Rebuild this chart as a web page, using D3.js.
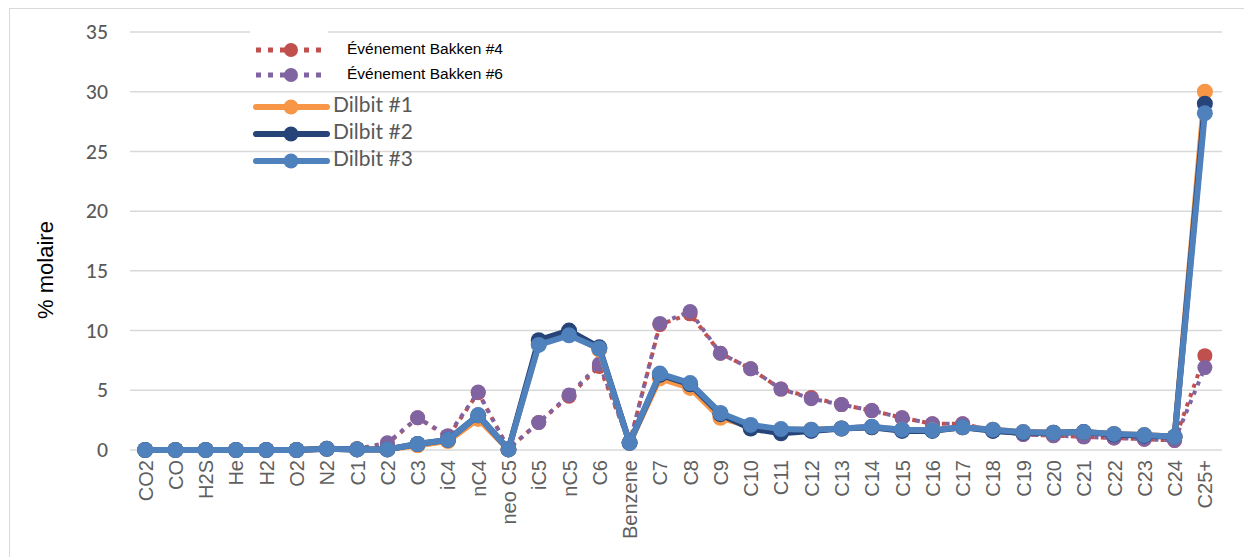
<!DOCTYPE html>
<html>
<head>
<meta charset="utf-8">
<script src="https://cdn.jsdelivr.net/npm/d3@7"></script>
<style>
  html, body { margin: 0; padding: 0; background: #fff; }
  svg { display: block; }
</style>
</head>
<body>
<svg id="chart" width="1244" height="557"></svg>
<script>
// Components along the x axis
const categories = ["CO2","CO","H2S","He","H2","O2","N2","C1","C2","C3","iC4","nC4","neo C5",
  "iC5","nC5","C6","Benzene","C7","C8","C9","C10","C11","C12","C13","C14","C15","C16","C17",
  "C18","C19","C20","C21","C22","C23","C24","C25+"];

// Mole percent per component
const bakken4 = [0,0,0,0,0,0,0.1,0.1,0.5,2.7,1.1,4.8,0.1,2.3,4.5,7.0,0.6,10.5,11.4,8.1,6.8,5.1,4.4,3.8,3.3,2.7,2.2,2.2,1.6,1.3,1.2,1.1,1.0,0.9,0.8,7.9];
const bakken6 = [0,0,0,0,0,0,0.1,0.1,0.6,2.7,1.2,4.85,0.1,2.3,4.6,7.2,0.6,10.6,11.6,8.1,6.8,5.1,4.3,3.8,3.3,2.7,2.2,2.2,1.6,1.3,1.2,1.1,1.0,0.9,0.8,6.9];
const dilbit1 = [0,0,0,0,0,0,0.1,0.05,0.05,0.4,0.75,2.6,0.05,8.9,9.8,8.4,0.6,6.0,5.2,2.7,2.0,1.7,1.7,1.8,1.9,1.7,1.65,1.9,1.7,1.5,1.45,1.5,1.35,1.25,1.1,30.0];
const dilbit2 = [0,0,0,0,0,0,0.1,0.05,0.05,0.5,0.85,2.9,0.05,9.2,10.0,8.6,0.6,6.3,5.5,3.0,1.8,1.4,1.6,1.8,1.9,1.6,1.6,1.9,1.6,1.45,1.45,1.5,1.3,1.2,1.1,29.0];
const dilbit3 = [0,0,0,0,0,0,0.1,0.05,0.05,0.5,0.85,2.9,0.05,8.8,9.6,8.5,0.6,6.4,5.6,3.1,2.1,1.75,1.7,1.8,1.95,1.7,1.65,1.9,1.7,1.5,1.45,1.5,1.35,1.25,1.1,28.2];

const yTicks = [0,5,10,15,20,25,30,35];

const series = [
  { name: "Événement Bakken #4", values: bakken4, color: "#C0504D", dotted: true },
  { name: "Événement Bakken #6", values: bakken6, color: "#8064A2", dotted: true },
  { name: "Dilbit #1", values: dilbit1, color: "#F79646", dotted: false },
  { name: "Dilbit #2", values: dilbit2, color: "#264478", dotted: false },
  { name: "Dilbit #3", values: dilbit3, color: "#4F81BD", dotted: false }
];

const svg = d3.select("#chart");

// Outer chart frame
svg.append("rect")
  .attr("x", 9.5).attr("y", 8.5)
  .attr("width", 1250).attr("height", 570)
  .attr("fill", "none").attr("stroke", "#D9D9D9").attr("stroke-width", 1);

const x = d3.scalePoint().domain(categories).range([130, 1220]).padding(0.5);
const y = d3.scaleLinear().domain([0, 35]).range([450, 32]);

// Horizontal gridlines
svg.append("g").selectAll("line").data(yTicks).join("line")
  .attr("x1", 130).attr("x2", 1222)
  .attr("y1", d => y(d)).attr("y2", d => y(d))
  .attr("stroke", "#D9D9D9").attr("stroke-width", 1.5);

// Y axis tick labels
const yAxis = d3.axisLeft(y).tickValues(yTicks).tickSize(0).tickPadding(0);
const yg = svg.append("g").attr("transform", "translate(108,0)").call(yAxis);
yg.select(".domain").remove();
yg.selectAll("text")
  .attr("font-family", "Lato, 'Open Sans', sans-serif")
  .attr("font-size", 19)
  .attr("font-weight", 500)
  .attr("fill", "#595959")
  .attr("dy", "0.35em");

// X axis tick labels, rotated
const xAxis = d3.axisBottom(x).tickSize(0).tickPadding(0);
const xg = svg.append("g").attr("transform", "translate(0,460)").call(xAxis);
xg.select(".domain").remove();
xg.selectAll("text")
  .attr("font-family", "'Liberation Sans', Arial, sans-serif")
  .attr("font-size", 20)
  .attr("fill", "#5f5f5f")
  .attr("text-anchor", "end")
  .attr("transform", "rotate(-90)")
  .attr("x", 0).attr("y", 0)
  .attr("dx", 0).attr("dy", "0.35em");

// Y axis title
svg.append("text")
  .attr("transform", "translate(47,270) rotate(-90)")
  .attr("text-anchor", "middle")
  .attr("dominant-baseline", "middle")
  .attr("font-family", "'Liberation Sans', Arial, sans-serif")
  .attr("font-size", 22)
  .attr("fill", "#000")
  .text("% molaire");

const line = d3.line().x((d, i) => x(categories[i])).y(d => y(d));

// Series lines and markers
series.forEach(s => {
  const g = svg.append("g");
  g.append("path")
    .datum(s.values)
    .attr("d", line)
    .attr("fill", "none")
    .attr("stroke", s.color)
    .attr("stroke-width", s.dotted ? 4 : 6)
    .attr("stroke-linejoin", "round")
    .attr("stroke-dasharray", s.dotted ? "4 6" : null);
  g.selectAll("circle").data(s.values).join("circle")
    .attr("cx", (d, i) => x(categories[i]))
    .attr("cy", d => y(d))
    .attr("r", s.dotted ? 7.5 : 8)
    .attr("fill", s.color);
});

// Legend panel for the Bakken events
svg.append("rect")
  .attr("x", 250).attr("y", 27).attr("width", 78).attr("height", 62)
  .attr("fill", "#fff");

const legendRows = [
  { s: series[0], y: 50, font: "'Liberation Sans', Arial, sans-serif", size: 15.5, color: "#000", tx: 347 },
  { s: series[1], y: 75, font: "'Liberation Sans', Arial, sans-serif", size: 15.5, color: "#000", tx: 347 },
  { s: series[2], y: 107, font: "Lato, 'Open Sans', sans-serif", size: 21, color: "#595959", tx: 333 },
  { s: series[3], y: 134, font: "Lato, 'Open Sans', sans-serif", size: 21, color: "#595959", tx: 333 },
  { s: series[4], y: 161, font: "Lato, 'Open Sans', sans-serif", size: 21, color: "#595959", tx: 333 }
];

const lg = svg.append("g");
legendRows.forEach(r => {
  lg.append("line")
    .attr("x1", 256).attr("x2", 327)
    .attr("y1", r.y).attr("y2", r.y)
    .attr("stroke", r.s.color)
    .attr("stroke-width", r.s.dotted ? 5 : 6)
    .attr("stroke-linecap", r.s.dotted ? "butt" : "round")
    .attr("stroke-dasharray", r.s.dotted ? "5 7" : null);
  lg.append("circle")
    .attr("cx", 291).attr("cy", r.y)
    .attr("r", r.s.dotted ? 7 : 7.5)
    .attr("fill", r.s.color);
  lg.append("text")
    .attr("x", r.tx).attr("y", r.y)
    .attr("dominant-baseline", "middle")
    .attr("font-family", r.font)
    .attr("font-size", r.size)
    .attr("fill", r.color)
    .text(r.s.name);
});
</script>
</body>
</html>
